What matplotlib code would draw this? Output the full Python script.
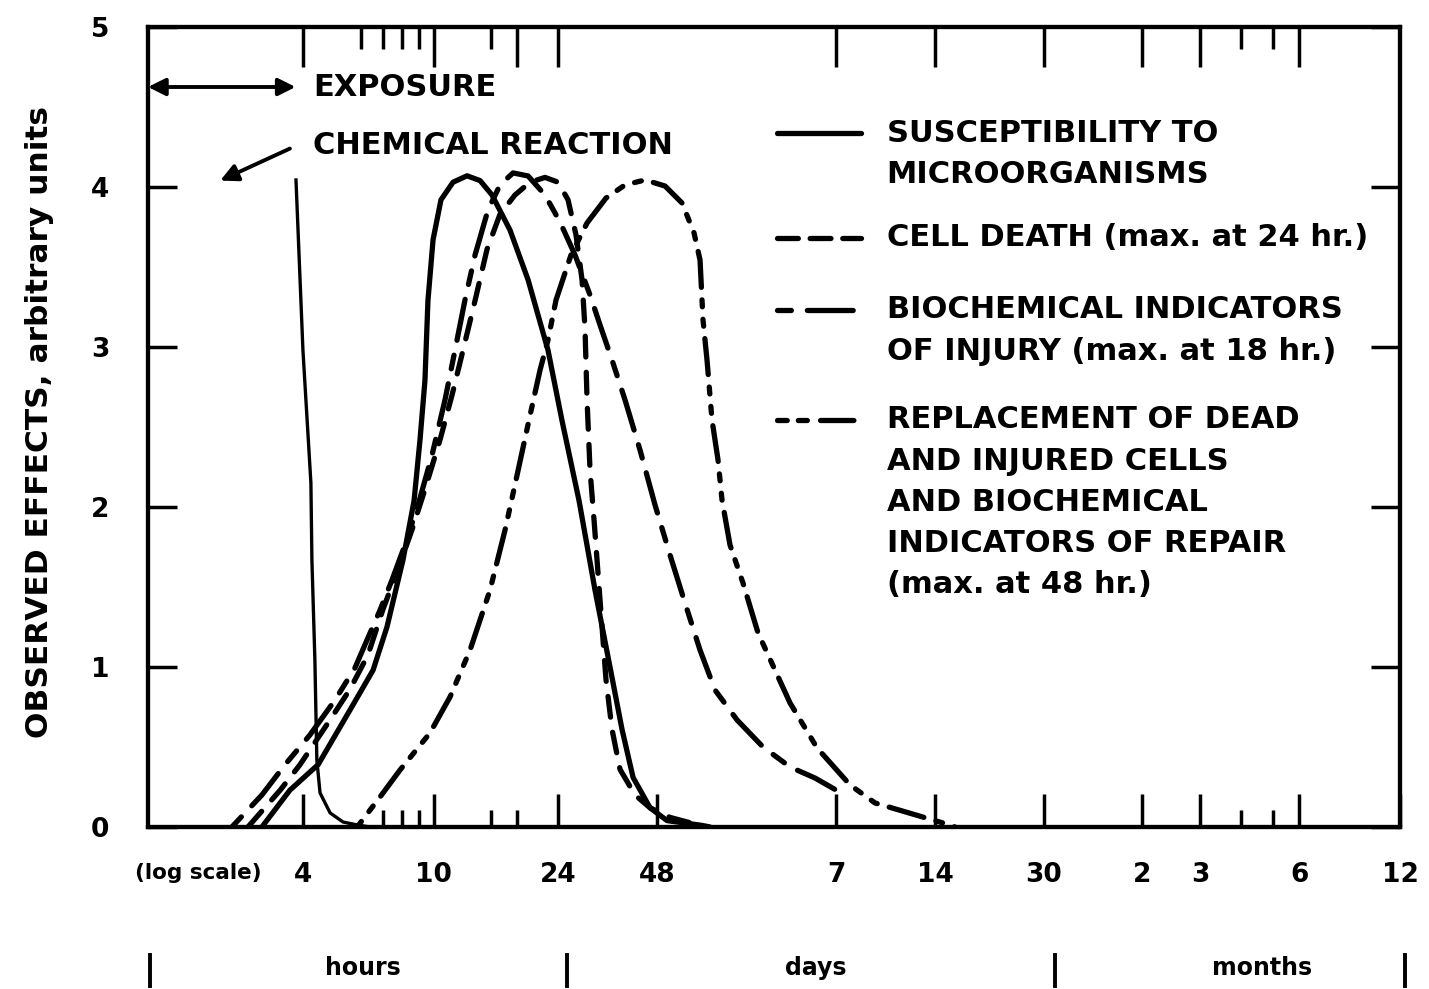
import matplotlib

matplotlib.use("Agg")

import matplotlib.pyplot as plt
from matplotlib.lines import Line2D
from matplotlib.ticker import FixedLocator, NullFormatter


plt.rcParams["font.family"] = ["DejaVu Sans"]
plt.rcParams["lines.scale_dashes"] = False

OUTPUT_PATH = "out.png"

# time axis in hours (log scale), observed effect in arbitrary units
X_MIN_HOURS = 1.35
X_MAX_HOURS = 8760

SUSCEPTIBILITY_HOURS = [
    3.00, 3.65, 4.45, 5.56, 6.54, 7.21, 8.07, 8.72, 9.09, 9.41,
    9.61, 9.96, 10.53, 11.46, 12.64, 13.85, 15.06, 17.09, 19.39, 22.30,
    24.60, 27.72, 31.01, 34.44, 37.47, 40.48, 45.60, 51.37, 65.65, 69.43,
]
SUSCEPTIBILITY_VALUES = [
    0.0, 0.23, 0.39, 0.73, 0.98, 1.25, 1.67, 2.04, 2.42, 2.79,
    3.29, 3.67, 3.92, 4.03, 4.07, 4.04, 3.95, 3.73, 3.42, 2.98,
    2.54, 2.04, 1.48, 1.00, 0.61, 0.31, 0.12, 0.04, 0.01, 0.0,
]

CELL_DEATH_HOURS = [
    2.72, 3.41, 3.92, 4.84, 5.56, 6.31, 7.01, 7.79, 8.60, 9.41,
    10.46, 11.38, 12.29, 13.37, 14.54, 15.93, 17.69, 19.66, 21.84, 23.92,
    25.66, 27.14, 28.31, 28.91, 29.32, 29.94, 30.79, 32.11, 33.49, 34.93,
    36.95, 41.05, 45.60, 52.46, 64.74,
]
CELL_DEATH_VALUES = [
    0.0, 0.23, 0.39, 0.67, 0.86, 1.075, 1.36, 1.61, 1.86, 2.11,
    2.42, 2.70, 2.98, 3.29, 3.61, 3.83, 3.95, 4.03, 4.06, 4.03,
    3.92, 3.70, 3.42, 3.11, 2.67, 2.23, 1.92, 1.42, 0.92, 0.61,
    0.36, 0.20, 0.12, 0.06, 0.01,
]

BIOCHEMICAL_HOURS = [
    2.43, 3.00, 3.53, 4.20, 5.01, 5.76, 6.27, 6.87, 7.47, 8.18,
    8.97, 9.89, 10.83, 11.62, 12.46, 13.37, 14.64, 15.93, 17.45, 19.39,
    21.84, 24.26, 26.95, 29.94, 32.11, 34.93, 38.27, 42.51, 47.22, 52.46,
    57.88, 64.74, 71.92, 83.93, 100.7, 121.7, 145.0, 168.0,
]
BIOCHEMICAL_VALUES = [
    0.0, 0.20, 0.39, 0.575, 0.794, 0.994, 1.169, 1.356, 1.544, 1.763,
    2.013, 2.325, 2.669, 2.981, 3.294, 3.575, 3.856, 4.013, 4.088, 4.069,
    3.95, 3.781, 3.575, 3.325, 3.138, 2.919, 2.669, 2.356, 2.013, 1.70,
    1.419, 1.106, 0.856, 0.669, 0.50, 0.375, 0.306, 0.231,
]

REPLACEMENT_HOURS = [
    5.85, 6.87, 7.90, 9.75, 11.22, 12.91, 14.85, 16.50, 17.82, 19.52,
    21.09, 22.30, 23.59, 26.20, 29.32, 33.49, 38.27, 44.03, 50.66, 57.07,
    62.08, 64.74, 66.11, 67.99, 70.41, 73.45, 75.53, 79.88, 87.5, 97.23,
    121.7, 147.1, 185.3, 220.9, 248.8, 355.8, 387.0,
]
REPLACEMENT_VALUES = [
    0.0, 0.188, 0.356, 0.588, 0.813, 1.106, 1.481, 1.856, 2.169, 2.544,
    2.856, 3.044, 3.294, 3.575, 3.775, 3.931, 4.013, 4.044, 4.006, 3.90,
    3.713, 3.544, 3.169, 2.919, 2.544, 2.294, 2.044, 1.763, 1.525, 1.213,
    0.775, 0.494, 0.263, 0.15, 0.119, 0.025, 0.0,
]

CHEMICAL_REACTION_HOURS = [3.81, 4.00, 4.23, 4.26, 4.35, 4.41, 4.51, 4.84, 5.30, 5.85, 6.40]
CHEMICAL_REACTION_VALUES = [4.044, 2.981, 2.15, 1.669, 1.044, 0.419, 0.213, 0.088, 0.031, 0.013, 0.0]

TICK_HOURS = [4, 10, 24, 48, 168, 336, 720, 1440, 2160, 4320, 8760]
TICK_LABELS = ["4", "10", "24", "48", "7", "14", "30", "2", "3", "6", "12"]
BOTTOM_MINOR_HOURS = [7, 8, 9, 15, 18, 2880, 3600]
TOP_MAJOR_HOURS = [4, 10, 18, 24, 168, 336, 720, 1440, 2160, 4320]
TOP_MINOR_HOURS = [6, 7, 8, 9, 15, 2880, 3600]
Y_TICKS = [0, 1, 2, 3, 4, 5]

EXPOSURE_END_HOURS = 3.8
EXPOSURE_LEVEL = 4.625

LEGEND_ENTRIES = [
    ["SUSCEPTIBILITY TO", "MICROORGANISMS"],
    ["CELL DEATH (max. at 24 hr.)"],
    ["BIOCHEMICAL INDICATORS", "OF INJURY (max. at 18 hr.)"],
    ["REPLACEMENT OF DEAD", "AND INJURED CELLS", "AND BIOCHEMICAL",
     "INDICATORS OF REPAIR", "(max. at 48 hr.)"],
]

LINE_WIDTH = 3.8
CELL_DEATH_DASH = (15, 11)
BIOCHEMICAL_DASH = (10, 11, 30, 11)
REPLACEMENT_DASH = (5, 9, 5, 9, 26, 9)
LEGEND_DASHES = [None, (15, 8.5), (10, 11.5, 33, 11.5), (7, 8, 6.5, 9.5, 24, 9)]

TEXT_STYLE = dict(fontsize=22, fontweight="bold", color="black")


def px_x(value):
    return value / 1429


def px_y(value):
    return 1 - value / 989


def main() -> None:
    figure = plt.figure(figsize=(14.29, 9.89), dpi=100)
    axes = figure.add_axes([px_x(148), px_y(827), 1252 / 1429, 800 / 989])

    axes.set_xscale("log")
    axes.set_xlim(X_MIN_HOURS, X_MAX_HOURS)
    axes.set_ylim(0, 5)

    line_style = dict(color="black", linewidth=LINE_WIDTH,
                      solid_capstyle="round", dash_capstyle="round",
                      solid_joinstyle="round", dash_joinstyle="round")

    axes.plot(SUSCEPTIBILITY_HOURS, SUSCEPTIBILITY_VALUES, **line_style)
    axes.plot(CELL_DEATH_HOURS, CELL_DEATH_VALUES, dashes=CELL_DEATH_DASH, **line_style)
    axes.plot(BIOCHEMICAL_HOURS, BIOCHEMICAL_VALUES, dashes=BIOCHEMICAL_DASH, **line_style)
    axes.plot(REPLACEMENT_HOURS, REPLACEMENT_VALUES, dashes=REPLACEMENT_DASH, **line_style)
    axes.plot(CHEMICAL_REACTION_HOURS, CHEMICAL_REACTION_VALUES,
              color="black", linewidth=2.4, solid_joinstyle="round")

    # annotations on the left
    axes.annotate(
        "",
        xy=(X_MIN_HOURS, EXPOSURE_LEVEL),
        xytext=(EXPOSURE_END_HOURS, EXPOSURE_LEVEL),
        arrowprops=dict(arrowstyle="<|-|>", color="black", lw=2.8,
                        mutation_scale=26, shrinkA=0, shrinkB=0),
    )
    axes.text(4.3, EXPOSURE_LEVEL, "EXPOSURE", ha="left", va="center", **TEXT_STYLE)
    axes.text(4.3, 4.2625, "CHEMICAL REACTION", ha="left", va="center", **TEXT_STYLE)
    axes.annotate(
        "",
        xy=(2.24, 4.04),
        xytext=(3.65, 4.24),
        arrowprops=dict(arrowstyle="-|>", color="black", lw=2.8,
                        mutation_scale=26, shrinkA=0, shrinkB=0),
    )

    # hand-made legend
    legend_rows = [0.8675, 0.7363, 0.6463, 0.5088]
    for entry, row_y, dashes in zip(LEGEND_ENTRIES, legend_rows, LEGEND_DASHES):
        sample = dict(color="black", linewidth=LINE_WIDTH, transform=axes.transAxes,
                      solid_capstyle="round", dash_capstyle="round")
        if dashes is not None:
            sample["dashes"] = dashes
        axes.plot([0.5024, 0.5695], [row_y, row_y], **sample)
        for index, text in enumerate(entry):
            axes.text(0.590, row_y - index * 0.0515, text, transform=axes.transAxes,
                      ha="left", va="center", **TEXT_STYLE)

    # ticks
    axes.set_xticks(TICK_HOURS, labels=TICK_LABELS)
    axes.xaxis.set_minor_locator(FixedLocator(BOTTOM_MINOR_HOURS))
    axes.xaxis.set_minor_formatter(NullFormatter())
    axes.set_yticks(Y_TICKS)

    axes.tick_params(axis="x", which="major", direction="in", length=24,
                     width=2.5, pad=25, labelsize=19, top=False)
    axes.tick_params(axis="x", which="minor", direction="in", length=12,
                     width=2.5, top=False)
    axes.tick_params(axis="y", which="major", direction="in", length=21,
                     width=2.5, pad=28, labelsize=19, right=True)
    for label in axes.get_xticklabels() + axes.get_yticklabels():
        label.set_fontweight("bold")

    top_axes = axes.twiny()
    top_axes.set_xscale("log")
    top_axes.set_xlim(X_MIN_HOURS, X_MAX_HOURS)
    top_axes.xaxis.set_major_locator(FixedLocator(TOP_MAJOR_HOURS))
    top_axes.xaxis.set_minor_locator(FixedLocator(TOP_MINOR_HOURS))
    top_axes.xaxis.set_major_formatter(NullFormatter())
    top_axes.xaxis.set_minor_formatter(NullFormatter())
    top_axes.tick_params(axis="x", which="major", direction="in", length=29,
                         width=2.5, top=True, bottom=False, labeltop=False)
    top_axes.tick_params(axis="x", which="minor", direction="in", length=16,
                         width=2.5, top=True, bottom=False, labeltop=False)

    for spine_axes in (axes, top_axes):
        for spine in spine_axes.spines.values():
            spine.set_linewidth(3)

    # outer labels
    figure.text(px_x(40), px_y(422), "OBSERVED EFFECTS, arbitrary units",
                rotation=90, ha="center", va="center", fontsize=22.5, fontweight="bold")
    figure.text(px_x(198), px_y(873), "(log scale)", ha="center", va="center",
                fontsize=15.5, fontweight="bold")
    for text, x_pos in [("hours", 363), ("days", 816), ("months", 1262)]:
        figure.text(px_x(x_pos), px_y(968), text, ha="center", va="center",
                    fontsize=17, fontweight="bold")
    for x_pos in [150, 567, 1055, 1405]:
        figure.add_artist(Line2D([px_x(x_pos), px_x(x_pos)], [px_y(955), px_y(986)],
                                 color="black", linewidth=2.8,
                                 transform=figure.transFigure))

    figure.savefig(OUTPUT_PATH, dpi=100, facecolor="white")
    plt.close(figure)


if __name__ == "__main__":
    main()
